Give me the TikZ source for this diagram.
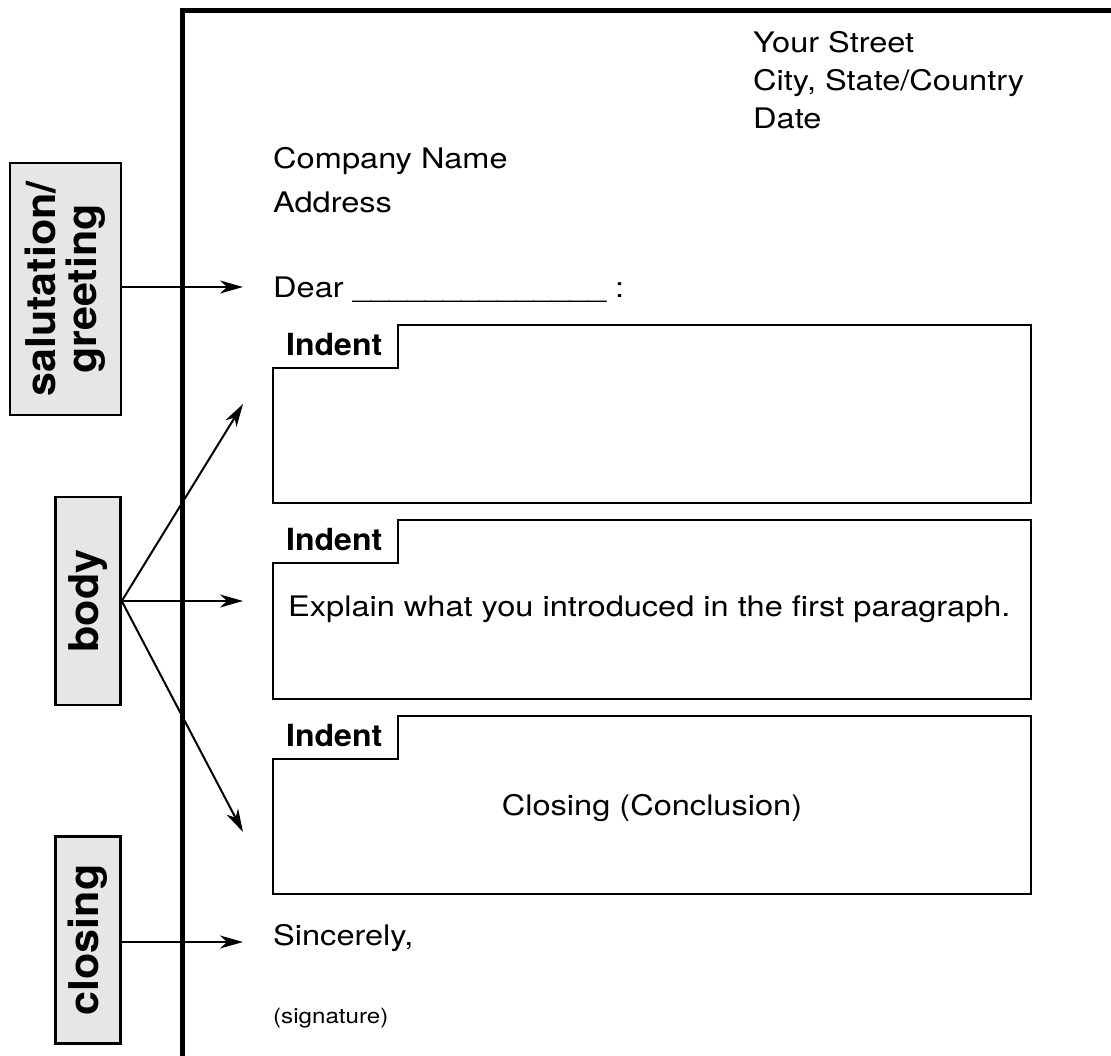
\documentclass[tikz,border=0pt]{standalone}
\usepackage{fontspec}
\setmainfont{TeX Gyre Heros}[FakeStretch=1.15]
\newfontfamily\labelfont{TeX Gyre Heros}[FakeStretch=1.05]
\usetikzlibrary{arrows.meta}
\definecolor{labelgray}{HTML}{E6E6E6}
\tikzset{
  txt/.style={anchor=base west, inner sep=0pt, font=\fontsize{28.3}{38}\selectfont},
  indenttxt/.style={anchor=base west, inner sep=0pt, font=\labelfont\fontsize{30.5}{34}\selectfont\bfseries},
  sidelabel/.style={draw=black, line width=2.5pt, fill=labelgray, rotate=90, inner sep=0pt,
     align=center, font=\labelfont\fontsize{41}{41}\selectfont\bfseries},
  parbox/.style={draw=black, line width=2.5pt, line join=miter},
  frame/.style={draw=black, line width=5pt},
  arr/.style={line width=2pt, -{Stealth[length=23pt,width=13pt,inset=7pt]}},
}
\begin{document}
\begin{tikzpicture}[x=1pt,y=-1pt]
\useasboundingbox (0,0) rectangle (1111,1055);
% page frame
\draw[frame] (182.5,1060) -- (182.5,10.5) -- (1115,10.5);

% top address
\node[txt] (street) at (753,52) {Your Street};
\node[txt] (city) at (753,90) {City, State/Country};
\node[txt] (date) at (753,128) {Date};
\node[txt] (company) at (273,168) {Company Name};
\node[txt] (address) at (273,212) {Address};
\node[txt] (dear) at (273,297) {Dear \_\_\_\_\_\_\_\_\_\_\_\_\_\_ :};

% paragraph boxes
\draw[parbox] (398,325) -- (1031,325) -- (1031,503) -- (273,503) -- (273,368) -- (398,368) -- cycle;
\node[indenttxt] (ind1) at (286,355) {Indent};
\draw[parbox] (398,520) -- (1031,520) -- (1031,699) -- (273,699) -- (273,563) -- (398,563) -- cycle;
\node[indenttxt] (ind2) at (286,550) {Indent};
\node[txt] (explain) at (288,616) {Explain what you introduced in the first paragraph.};
\draw[parbox] (398,716) -- (1031,716) -- (1031,894) -- (273,894) -- (273,759) -- (398,759) -- cycle;
\node[indenttxt] (ind3) at (286,746) {Indent};
\node[txt, anchor=base] (concl) at (652,815) {Closing (Conclusion)};

\node[txt] (sinc) at (273,945) {Sincerely,};
\node[anchor=base west, inner sep=0pt, font=\fontsize{21}{24}\selectfont] (sig) at (273,1023) {(signature)};

% side labels
\node[sidelabel, minimum width=252pt, minimum height=111pt] (salut) at (65.5,289) {salutation/\\greeting};
\node[sidelabel, minimum width=208pt, minimum height=65pt] (body) at (88,601) {body};
\node[sidelabel, minimum width=207pt, minimum height=65pt] (closing) at (88,940) {closing};

% arrow targets
\coordinate (tsal) at (243,287);
\coordinate (tb1) at (243,404);
\coordinate (tb2) at (243,601);
\coordinate (tb3) at (243,832);
\coordinate (tcl) at (243,942);

\draw[arr] (salut.south |- tsal) -- (tsal);
\draw[arr] (body.south) -- (tb1);
\draw[arr] (body.south) -- (tb2);
\draw[arr] (body.south) -- (tb3);
\draw[arr] (closing.south |- tcl) -- (tcl);
\end{tikzpicture}
\end{document}
